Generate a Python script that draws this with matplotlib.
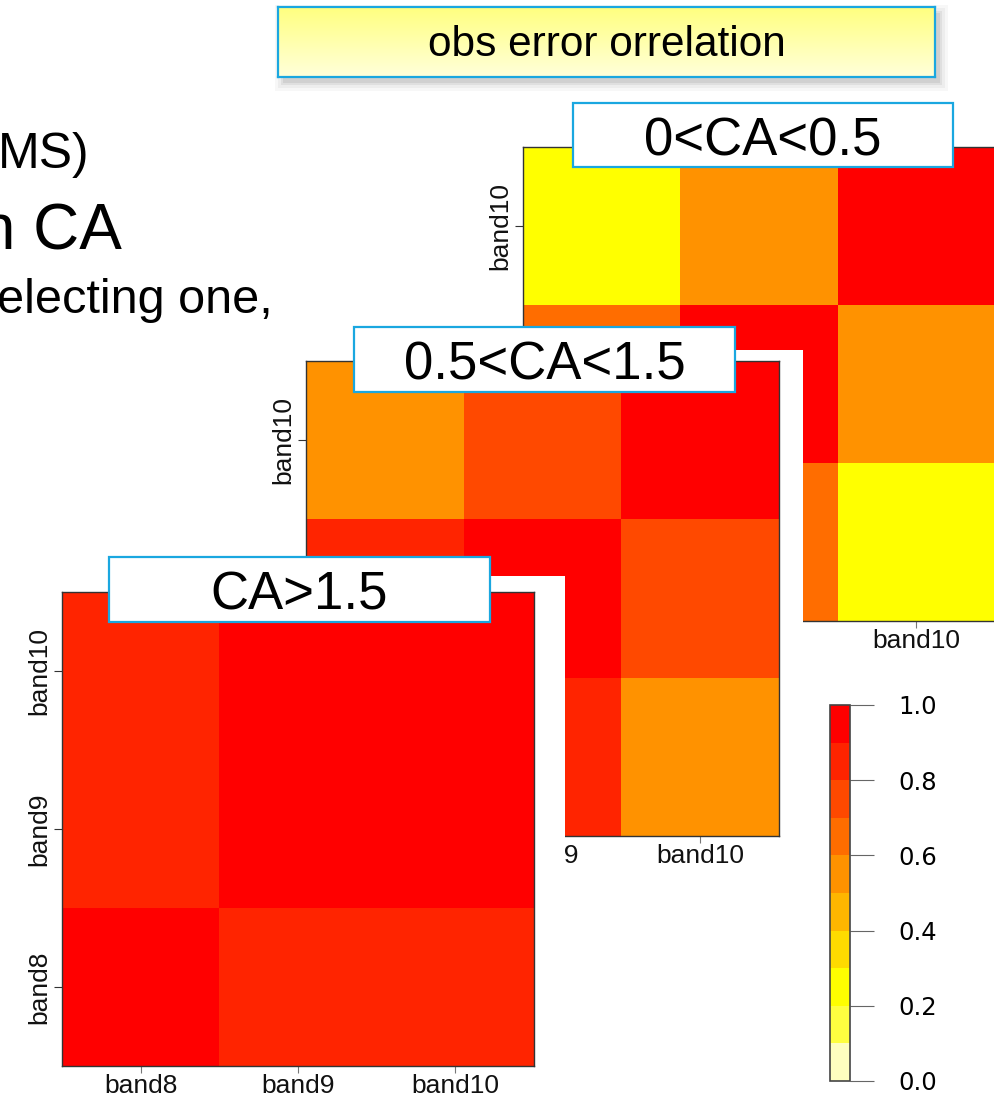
import numpy as np
import matplotlib
matplotlib.use("Agg")
import matplotlib.pyplot as plt
import matplotlib.cm as cm
from matplotlib.colors import ListedColormap, BoundaryNorm, LinearSegmentedColormap
from matplotlib.patches import Rectangle

plt.rcParams['font.family'] = ['Liberation Sans', 'DejaVu Sans']

# ---- data ----
bands = ["band8", "band9", "band10"]
panel_titles = ["0<CA<0.5", "0.5<CA<1.5", "CA>1.5"]
# rows bottom->top: band8, band9, band10 ; cols: band8, band9, band10
corr_low = [[1.0, 0.65, 0.25],
            [0.65, 1.0, 0.55],
            [0.25, 0.55, 1.0]]
corr_mid = [[1.0, 0.85, 0.55],
            [0.85, 1.0, 0.75],
            [0.55, 0.75, 1.0]]
corr_high = [[1.0, 0.85, 0.85],
             [0.85, 1.0, 0.95],
             [0.85, 0.95, 1.0]]
levels = np.linspace(0, 1, 11)
heat10 = ["#FFFFBF", "#FFFF40", "#FFFF00", "#FFDB00", "#FFB600",
          "#FF9200", "#FF6D00", "#FF4900", "#FF2400", "#FF0000"]
cbar_ticks = [0.0, 0.2, 0.4, 0.6, 0.8, 1.0]
cbar_labels = ["0.0", "0.2", "0.4", "0.6", "0.8", "1.0"]
title_text = "obs error orrelation"
side_lines = ["MS)", "n CA", "electing one,"]

# ---- layout (pixels, from top-left) ----
W, H = 994, 1097
fig = plt.figure(figsize=(W / 100, H / 100), dpi=100)


def frect(x0, y0, x1, y1):
    return [x0 / W, 1 - y1 / H, (x1 - x0) / W, (y1 - y0) / H]


def px_rect(x0, y0, x1, y1, **kw):
    return Rectangle((x0 / W, 1 - y1 / H), (x1 - x0) / W, (y1 - y0) / H,
                     transform=fig.transFigure, clip_on=False, **kw)


cmap = ListedColormap(heat10)
norm = BoundaryNorm(levels, cmap.N)
blue = "#1AA7E0"

# axes box, white backing, label box
layout = [
    ((523, 147, 995, 621), (470, 125, 994, 670), (573, 103, 953, 167)),
    ((306, 361, 779, 836), (250, 350, 803, 880), (354, 327, 735, 392)),
    ((62, 592, 534, 1066), (0, 576, 565, 1097), (109, 557, 490, 622)),
]

for k, mat in enumerate([corr_low, corr_mid, corr_high]):
    box, back, lab = layout[k]
    ax = fig.add_axes(frect(*box), zorder=k + 1)
    ax.add_patch(px_rect(*back, facecolor="white", edgecolor="none", zorder=-5))
    ax.pcolormesh(np.array(mat), cmap=cmap, norm=norm)
    ax.set_xlim(0, 3)
    ax.set_ylim(0, 3)
    ax.set_xticks([0.5, 1.5, 2.5])
    ax.set_xticklabels(bands)
    ax.set_yticks([0.5, 1.5, 2.5])
    ax.set_yticklabels(bands, rotation=90, va="center")
    ax.tick_params(axis="x", length=5, width=0.8, color="#777777",
                   labelsize=19, pad=0.5, labelcolor="#111111")
    ax.tick_params(axis="y", length=6, width=0.8, color="#333333",
                   labelsize=19, pad=2, labelcolor="#111111")
    for sp in ax.spines.values():
        sp.set_color("#333333")
        sp.set_linewidth(1.0)
    ax.add_patch(px_rect(*lab, facecolor="white", edgecolor=blue,
                         linewidth=1.6, zorder=10))
    ax.text((lab[0] + lab[2]) / 2 / W, 1 - (lab[1] + 53) / H, panel_titles[k],
            transform=fig.transFigure, fontsize=38, ha="center",
            va="baseline", zorder=11)

# ---- colorbar ----
cax = fig.add_axes(frect(830, 705, 850, 1081), zorder=10)
cb = fig.colorbar(cm.ScalarMappable(norm=norm, cmap=cmap), cax=cax,
                  ticks=cbar_ticks)
cb.minorticks_off()
cax.set_yticklabels(cbar_labels, family=["DejaVu Sans"])
cb.outline.set_edgecolor("#444444")
cb.outline.set_linewidth(1.2)
cax.tick_params(which="major", length=17, width=0.8, color="#666666",
                labelsize=17.5, pad=18)

# ---- title box with shadow ----
for g, a in [(8, 0.06), (5, 0.08), (2, 0.12), (0, 0.15)]:
    fig.patches.append(px_rect(278 + 5 - g, 7 + 6 - g, 935 + 5 + g, 77 + 6 + g,
                               facecolor="#808080", edgecolor="none", alpha=a))
tax = fig.add_axes(frect(278, 7, 935, 77), zorder=6)
grad = np.linspace(0, 1, 60).reshape(-1, 1)
tax.imshow(grad, aspect="auto", extent=[0, 1, 0, 1],
           cmap=LinearSegmentedColormap.from_list("yl", ["#FFFF80", "#FFFFDA"]))
tax.set_xticks([])
tax.set_yticks([])
for sp in tax.spines.values():
    sp.set_color(blue)
    sp.set_linewidth(1.6)
tax.text(0.5, (77 - 56) / 70, title_text, transform=tax.transAxes,
         fontsize=30.5, ha="center", va="baseline", zorder=5)

# ---- slide text cut off at the left ----
fig.text(90 / W, 1 - 168 / H, side_lines[0], fontsize=36, ha="right", va="baseline")
fig.text(122 / W, 1 - 250 / H, side_lines[1], fontsize=46, ha="right", va="baseline")
fig.text(273 / W, 1 - 313 / H, side_lines[2], fontsize=35, ha="right", va="baseline")

fig.savefig("out.png", dpi=100)
